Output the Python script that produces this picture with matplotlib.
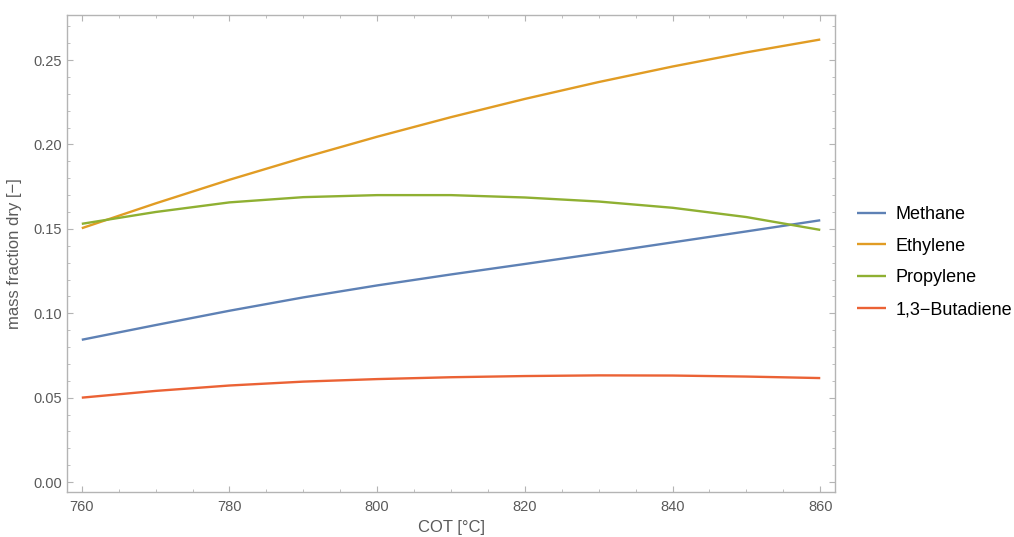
import matplotlib
matplotlib.use("Agg")
import matplotlib.pyplot as plt
from matplotlib.ticker import MultipleLocator

plt.rcParams['font.family'] = ['Liberation Sans', 'DejaVu Sans']

cot = [760, 770, 780, 790, 800, 810, 820, 830, 840, 850, 860]
methane = [0.0843, 0.0930, 0.1015, 0.1094, 0.1165, 0.1230, 0.1292, 0.1355, 0.1420, 0.1485, 0.1551]
ethylene = [0.1504, 0.1651, 0.1791, 0.1922, 0.2046, 0.2162, 0.2270, 0.2370, 0.2462, 0.2546, 0.2622]
propylene = [0.1530, 0.1600, 0.1657, 0.1688, 0.1700, 0.1700, 0.1686, 0.1662, 0.1625, 0.1570, 0.1494]
butadiene = [0.0500, 0.0540, 0.0572, 0.0595, 0.0610, 0.0621, 0.0628, 0.0632, 0.0631, 0.0625, 0.0616]

series_names = ["Methane", "Ethylene", "Propylene", "1,3\u2212Butadiene"]
series_values = [methane, ethylene, propylene, butadiene]
colors = ["#5E81B5", "#E19C24", "#8FB032", "#EB6235"]

x_ticks = [760, 780, 800, 820, 840, 860]
y_ticks = [0.00, 0.05, 0.10, 0.15, 0.20, 0.25]

fig = plt.figure(figsize=(10.14, 5.37), dpi=100)
ax = fig.add_axes([0.0661, 0.0838, 0.8235 - 0.0661, 0.972 - 0.0838])

for name, vals, c in zip(series_names, series_values, colors):
    ax.plot(cot, vals, color=c, lw=1.7, label=name, solid_capstyle='butt',
            solid_joinstyle='round')

ax.set_xlim(758.0, 862.0)
ax.set_ylim(-0.0059, 0.2767)
ax.set_xticks(x_ticks)
ax.set_yticks(y_ticks)
ax.set_yticklabels([f"{v:.2f}" for v in y_ticks])
ax.xaxis.set_minor_locator(MultipleLocator(5))
ax.yaxis.set_minor_locator(MultipleLocator(0.01))

frame_c = "#b4b4b4"
for s in ax.spines.values():
    s.set_color(frame_c)
    s.set_linewidth(1.0)
ax.tick_params(which='both', direction='in', top=True, right=True, color=frame_c,
               labelcolor="#5a5a5a", labelsize=10.5)
ax.tick_params(which='major', length=4, width=0.8)
ax.tick_params(which='minor', length=2, width=0.6)
ax.tick_params(axis='x', pad=6)

ax.set_xlabel("COT [\u00b0C]", fontsize=12, color="#5a5a5a", labelpad=4)
ax.set_ylabel("mass fraction dry [\u2212]", fontsize=12, color="#5a5a5a", labelpad=8)

leg = fig.legend(loc='center left', bbox_to_anchor=(0.829, 0.512), frameon=False,
                 fontsize=13, handlelength=1.6, handletextpad=0.55, labelspacing=0.82)

fig.savefig("out.png", dpi=100)
